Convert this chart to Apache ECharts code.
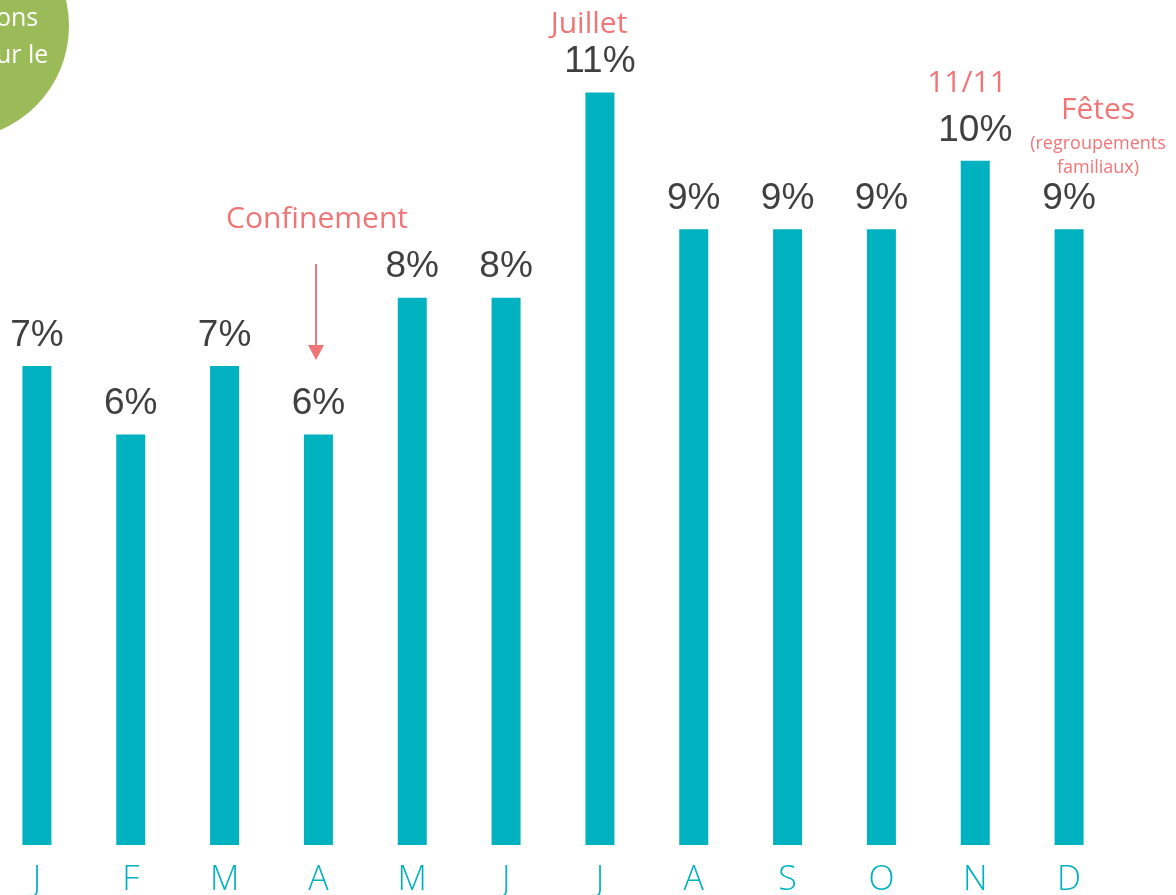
<!DOCTYPE html>
<html lang="fr">
<head>
    <meta charset="UTF-8">
    <title>Répartition mensuelle</title>
    <style>
        html, body { margin: 0; padding: 0; background: #fff; overflow: hidden; }
        /* plot area starts a little left of the page edge */
        #chart { position: absolute; left: -10px; top: 0; width: 1186px; height: 895px; }
    </style>
</head>
<body>
<div id="chart"></div>
<script src="https://cdn.jsdelivr.net/npm/echarts@6/dist/echarts.min.js"></script>
<script>
    var months = ['J', 'F', 'M', 'A', 'M', 'J', 'J', 'A', 'S', 'O', 'N', 'D'];
    var shares = [7, 6, 7, 6, 8, 8, 11, 9, 9, 9, 10, 9];

    var teal = '#00B2BF';
    var salmon = '#F07577';
    var annFont = '"Open Sans", "Noto Sans", sans-serif';
    var dx = 10; // chart div is shifted left by 10px

    var myChart = echarts.init(document.getElementById('chart'));
    var option = {
        backgroundColor: '#ffffff',
        animation: false,
        grid: { left: 0, right: 60, top: 24, bottom: 50, containLabel: false, outerBoundsMode: 'none' },
        xAxis: {
            type: 'category',
            data: months,
            axisLine: { show: false },
            axisTick: { show: false },
            axisLabel: {
                color: teal,
                fontSize: 34,
                fontWeight: 300,
                fontFamily: annFont,
                margin: 18
            }
        },
        yAxis: {
            type: 'value',
            min: 0,
            max: 12,
            show: false
        },
        series: [{
            type: 'bar',
            data: shares,
            barWidth: 29,
            itemStyle: { color: teal },
            label: {
                show: true,
                position: 'top',
                distance: 12,
                color: '#404040',
                fontSize: 37,
                fontFamily: '"Liberation Sans", Arial, sans-serif',
                formatter: '{c}%'
            }
        }],
        graphic: [
            // green bubble cut off at top-left
            { type: 'circle', shape: { cx: -44 + dx, cy: 26, r: 113 }, style: { fill: '#9BBB59' } },
            { type: 'text', x: -4 + dx, y: 6, style: { text: 'ons', fill: '#fff', font: '25px ' + annFont } },
            { type: 'text', x: -4 + dx, y: 43, style: { text: 'ur le', fill: '#fff', font: '25px ' + annFont } },
            // annotations
            { type: 'text', x: 589 + dx, y: 24, style: { text: 'Juillet', fill: salmon, font: '30px ' + annFont, align: 'center', verticalAlign: 'middle' } },
            { type: 'text', x: 317 + dx, y: 219, style: { text: 'Confinement', fill: salmon, font: '30px ' + annFont, align: 'center', verticalAlign: 'middle' } },
            { type: 'line', shape: { x1: 316 + dx, y1: 264, x2: 316 + dx, y2: 348 }, style: { stroke: salmon, lineWidth: 2 } },
            { type: 'polygon', shape: { points: [[308 + dx, 345], [324 + dx, 345], [316 + dx, 360]] }, style: { fill: salmon } },
            { type: 'text', x: 967 + dx, y: 83, style: { text: '11/11', fill: salmon, font: '30px ' + annFont, align: 'center', verticalAlign: 'middle' } },
            { type: 'text', x: 1098 + dx, y: 110, style: { text: 'Fêtes', fill: salmon, font: '30px ' + annFont, align: 'center', verticalAlign: 'middle' } },
            { type: 'text', x: 1098 + dx, y: 144, style: { text: '(regroupements', fill: salmon, font: '18px ' + annFont, align: 'center', verticalAlign: 'middle' } },
            { type: 'text', x: 1098 + dx, y: 168, style: { text: 'familiaux)', fill: salmon, font: '18px ' + annFont, align: 'center', verticalAlign: 'middle' } }
        ]
    };
    myChart.setOption(option);
</script>
</body>
</html>
